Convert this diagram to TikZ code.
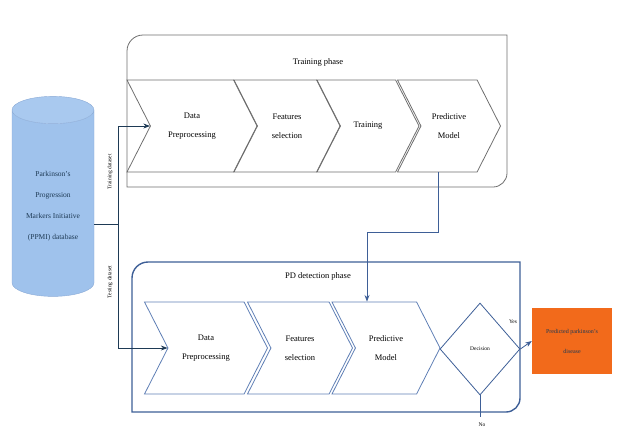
\documentclass[tikz,border=0pt]{standalone}
\usepackage{fontspec}
\setmainfont{Liberation Serif}
\usetikzlibrary{shapes.geometric, shapes.symbols, arrows.meta, positioning}
\definecolor{dbfill}{HTML}{9FC2EC}
\definecolor{dbtop}{HTML}{A9C9EF}
\definecolor{dbline}{HTML}{8AAAD6}
\definecolor{dbtext}{HTML}{1E3A55}
\definecolor{trgray}{HTML}{6F6F6F}
\definecolor{pdblue}{HTML}{3E5F97}
\definecolor{chevblue}{HTML}{5F7FB5}
\definecolor{outorange}{HTML}{F26A1B}

\begin{document}
\begin{tikzpicture}[x=1pt, y=-1pt, >=Stealth,
    chev/.style={signal, signal from=west, signal to=east, signal pointer angle=126,
        minimum height=92pt, inner sep=0pt, align=center,
        font=\fontsize{8.5}{19}\selectfont},
    trchev/.style={chev, draw=trgray, thick},
    pdchev/.style={chev, draw=chevblue, thick},
    link/.style={draw=pdblue, thick},
    smalltext/.style={font=\fontsize{5.5}{6}\selectfont}]
    \useasboundingbox (0,0) rectangle (617,432);

    % Base de datos
    \node[cylinder, shape border rotate=90, aspect=0.45, draw=dbline,
        cylinder uses custom fill, cylinder body fill=dbfill, cylinder end fill=dbtop,
        minimum width=82pt, minimum height=200pt, align=center, text=dbtext,
        font=\fontsize{7.5}{21}\selectfont] (db) at (53,206)
        {Parkinson's\\Progression\\Markers Initiative\\(PPMI) database};

    % Fase de entrenamiento
    \draw[trgray, thick] (127,110) [rounded corners=16pt] -- (127,35) -- (300,35)
        [sharp corners] -- (507,35) -- (507,110) [rounded corners=14pt]
        -- (507,187) -- (300,187) [sharp corners] -- (127,187) -- cycle;
    \node[font=\fontsize{8.5}{10}\selectfont] (trtitle) at (318,62) {Training phase};

    \node[trchev, minimum width=130pt] (trdp) at (192,126) {Data\\Preprocessing};
    \node[trchev, minimum width=106pt] (trfs) at (287,126) {Features\\selection};
    \node[trchev, minimum width=102pt] (trtr) at (368,126) {Training};
    \node[trchev, minimum width=103pt] (trpm) at (449,126) {Predictive\\Model};

    % Fase de deteccion
    \draw[pdblue, line width=1.4pt] (132,330) [rounded corners=16pt] -- (132,262)
        -- (330,262) [sharp corners] -- (520,262) -- (520,330) [rounded corners=14pt]
        -- (520,412) -- (330,412) [sharp corners] -- (132,412) -- cycle;
    \node[font=\fontsize{8.5}{10}\selectfont] (pdtitle) at (318,276) {PD detection phase};

    \node[pdchev, minimum width=123pt] (pddp) at (206,348) {Data\\Preprocessing};
    \node[pdchev, minimum width=105pt] (pdfs) at (300,348) {Features\\selection};
    \node[pdchev, minimum width=108pt] (pdpm) at (386,348) {Predictive\\Model};
    \node[diamond, draw=pdblue, thick, aspect=0.87, minimum width=80pt,
        minimum height=92pt, inner sep=0pt, smalltext] (dec) at (480,349) {Decision};

    \node[fill=outorange, minimum width=80pt, minimum height=66pt, align=center,
        text=dbtext, font=\fontsize{6}{20}\selectfont] (out) at (572,341)
        {Predicted parkinson's\\disease};

    % Conexiones
    \coordinate (split) at (118,224);
    \coordinate (tapA) at (438,232);
    \coordinate (tapB) at (367,232);
    \coordinate (noend) at (480,417);

    \draw[thick, dbtext] (db.east |- split) -- (split);
    \draw[->, thick, dbtext] (split) |- (trdp.west);
    \draw[->, thick, dbtext] (split) |- (pddp.west);
    \node[rotate=90, smalltext] (trset) at (110,172) {Training dataset};
    \node[rotate=90, smalltext] (tsset) at (110,282) {Testing dataset};

    \draw[->, link] (trpm.south -| tapA) -- (tapA) -- (tapB) -- (pdpm.north -| tapB);
    \draw[->, link] (dec.east) -- (out.west);
    \draw[link, thin] (dec.south) -- (noend);
    \node[smalltext] (yes) at (513,322) {Yes};
    \node[smalltext] (no) at (482,425) {No};
\end{tikzpicture}
\end{document}
